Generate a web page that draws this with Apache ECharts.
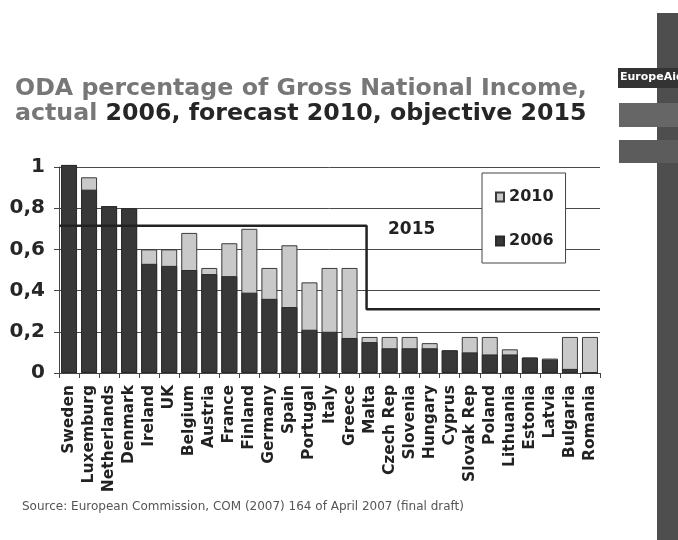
<!DOCTYPE html>
<html>
<head>
<meta charset="utf-8">
<script src="https://cdn.jsdelivr.net/npm/echarts@6/dist/echarts.min.js"></script>
<style>
html,body{margin:0;padding:0;background:#fff;}
#chart{width:678px;height:540px;}
</style>
</head>
<body>
<div id="chart"></div>
<script>
const countries = ['Sweden','Luxemburg','Netherlands','Denmark','Ireland','UK','Belgium','Austria','France','Finland','Germany','Spain','Portugal','Italy','Greece','Malta','Czech Rep','Slovenia','Hungary','Cyprus','Slovak Rep','Poland','Lithuania','Estonia','Latvia','Bulgaria','Romania'];
const oda2006 = [1.01,0.89,0.81,0.80,0.53,0.52,0.50,0.48,0.47,0.39,0.36,0.32,0.21,0.20,0.17,0.15,0.12,0.12,0.12,0.11,0.10,0.09,0.09,0.075,0.065,0.02,0];
const oda2010 = [1.01,0.95,0.81,0.80,0.60,0.60,0.68,0.51,0.63,0.70,0.51,0.62,0.44,0.51,0.51,0.175,0.175,0.175,0.145,0.11,0.175,0.175,0.115,0.075,0.07,0.175,0.175];
// 2015 objective: level for old member states, then for new member states
const objective2015Levels = [0.715, 0.31];
const objective2015Break = 15.35; // category position where the objective steps down
const yTicks = [0, 0.2, 0.4, 0.6, 0.8, 1];

const n = countries.length;
const objectiveLine = [
  [0, objective2015Levels[0]],
  [objective2015Break, objective2015Levels[0]],
  [objective2015Break, objective2015Levels[1]],
  [n, objective2015Levels[1]]
];

const FONT = 'DejaVu Sans';
const chart = echarts.init(document.getElementById('chart'));
chart.setOption({
  backgroundColor: '#ffffff',
  animation: false,
  title: {
    left: 10, top: 71,
    text: '{g|ODA percentage of Gross National Income,}\n{g|actual }{b|2006, forecast 2010, objective 2015}',
    textStyle: {
      rich: {
        g: {fontFamily: FONT, fontSize: 23.7, fontWeight: 'bold', color: '#777777', lineHeight: 25},
        b: {fontFamily: FONT, fontSize: 23.7, fontWeight: 'bold', color: '#262626', lineHeight: 25}
      }
    }
  },
  legend: {
    data: ['2010', '2006'],
    orient: 'vertical',
    left: 482, top: 173,
    padding: [16, 12, 14, 13],
    itemGap: 28,
    itemWidth: 8, itemHeight: 9,
    icon: 'rect',
    backgroundColor: '#ffffff',
    borderColor: '#444',
    borderWidth: 1,
    textStyle: {fontFamily: FONT, fontSize: 16, fontWeight: 'bold', color: '#222'}
  },
  grid: {left: 59, right: 78, top: 167, bottom: 167},
  xAxis: [{
    type: 'category',
    data: countries,
    axisLine: {lineStyle: {color: '#444', width: 1}},
    axisTick: {show: true, length: 5, lineStyle: {color: '#444'}},
    axisLabel: {rotate: 90, margin: 12, fontFamily: FONT, fontSize: 15.5, fontWeight: 'bold', color: '#222', interval: 0}
  }, {
    type: 'value', min: 0, max: n, show: false
  }],
  yAxis: {
    type: 'value', min: 0, max: 1, interval: 0.2,
    axisLine: {show: true, lineStyle: {color: '#444'}},
    axisTick: {show: true, length: 5, lineStyle: {color: '#444'}},
    splitLine: {show: true, lineStyle: {color: '#4a4a4a', width: 1}},
    axisLabel: {
      margin: 14, fontFamily: FONT, fontSize: 20, fontWeight: 'bold', color: '#262626',
      formatter: v => String(+v.toFixed(1)).replace('.', ',')
    }
  },
  series: [{
    name: '2010', type: 'bar', data: oda2010, barWidth: 16, barGap: '-100%', clip: false,
    itemStyle: {color: '#c9c9c9', borderColor: '#3a3a3a', borderWidth: 1}, z: 2
  }, {
    name: '2006', type: 'bar', data: oda2006, barWidth: 16, barGap: '-100%', clip: false,
    itemStyle: {color: '#383838', borderColor: '#2a2a2a', borderWidth: 1}, z: 3
  }, {
    name: '2015', type: 'line', xAxisIndex: 1, data: objectiveLine, symbol: 'none',
    lineStyle: {color: '#222', width: 2.5}, z: 4, silent: true
  }],
  graphic: [
    {type: 'text', left: 388, top: 221, style: {text: '2015', fontFamily: FONT, fontSize: 17, fontWeight: 'bold', fill: '#222'}},
    {type: 'text', left: 22, top: 501, style: {text: 'Source: European Commission, COM (2007) 164 of April 2007 (final draft)', fontFamily: FONT, fontSize: 12, fill: '#555'}},
    {type: 'rect', shape: {x: 657, y: 13, width: 21, height: 527}, style: {fill: '#4e4e4e'}},
    {type: 'rect', shape: {x: 618, y: 68, width: 60, height: 20}, style: {fill: '#333'}},
    {type: 'text', x: 620, y: 72, style: {text: 'EuropeAid', fontFamily: FONT, fontSize: 11, fontWeight: 'bold', fill: '#fff'}},
    {type: 'rect', shape: {x: 619, y: 103, width: 59, height: 24}, style: {fill: '#666'}},
    {type: 'rect', shape: {x: 619, y: 140, width: 59, height: 23}, style: {fill: '#5c5c5c'}}
  ]
});
</script>
</body>
</html>
